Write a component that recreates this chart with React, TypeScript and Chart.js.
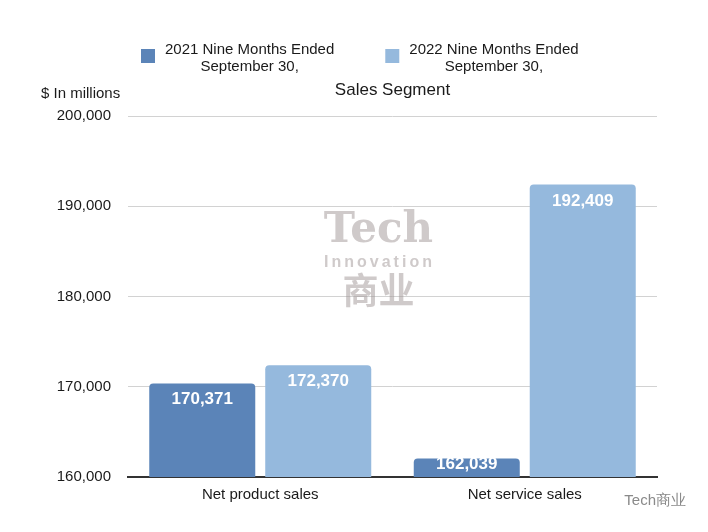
import React, { useEffect, useRef } from 'react';
import { Chart, registerables } from 'chart.js';

Chart.register(...registerables);

const categories = ['Net product sales', 'Net service sales'];
const seriesNames = [
    ['2021 Nine Months Ended', 'September 30,'],
    ['2022 Nine Months Ended', 'September 30,'],
];
const sales2021 = [170371, 162039];
const sales2022 = [172370, 192409];
const yMin = 160000;
const yMax = 200000;
const yStep = 10000;

const colors = ['#5b84b8', '#95b9dd'];
const FONT = 'Arial, "Liberation Sans", Helvetica, sans-serif';

const fmt = (v: number) => v.toLocaleString('en-US');

// white value labels just under the top of each bar
const barLabels = {
    id: 'barLabels',
    afterDatasetsDraw(chart: any) {
        const { ctx, chartArea } = chart;
        ctx.save();
        ctx.fillStyle = '#ffffff';
        ctx.font = `bold 17px ${FONT}`;
        ctx.textAlign = 'center';
        ctx.textBaseline = 'alphabetic';
        chart.data.datasets.forEach((ds: any, i: number) => {
            const meta = chart.getDatasetMeta(i);
            meta.data.forEach((bar: any, j: number) => {
                const y = Math.min(bar.y + 21, chartArea.bottom - 8);
                ctx.fillText(fmt(ds.data[j]), bar.x, y);
            });
        });
        ctx.restore();
    },
};

// legend with two-line labels, title, unit label and watermarks
const headerText = {
    id: 'headerText',
    beforeDatasetsDraw(chart: any) {
        const { ctx, chartArea } = chart;
        const cx = (chartArea.left + chartArea.right) / 2 - 14;
        ctx.save();
        ctx.textAlign = 'center';
        ctx.textBaseline = 'alphabetic';
        ctx.fillStyle = 'rgba(160,150,150,0.5)';
        ctx.font = `bold 42px "DejaVu Serif", "Liberation Serif", serif`;
        ctx.fillText('Tech', cx, 242);
        ctx.font = `bold 16px ${FONT}`;
        ctx.letterSpacing = '3px';
        ctx.fillText('Innovation', cx + 1, 267);
        ctx.letterSpacing = '0px';
        ctx.font = `bold 36px "Noto Sans CJK SC", sans-serif`;
        ctx.fillText('商业', cx, 304);
        ctx.restore();
    },
    afterDraw(chart: any) {
        const { ctx, chartArea, width } = chart;
        ctx.save();
        ctx.fillStyle = '#1a1a1a';
        ctx.textBaseline = 'alphabetic';

        // legend
        ctx.font = `15px ${FONT}`;
        let x = 141;
        seriesNames.forEach((lines, i) => {
            ctx.fillStyle = colors[i];
            ctx.fillRect(x, 49, 14, 14);
            const tx = x + 24;
            const w = Math.max(...lines.map((l) => ctx.measureText(l).width));
            ctx.fillStyle = '#1a1a1a';
            ctx.textAlign = 'center';
            lines.forEach((l, k) => ctx.fillText(l, tx + w / 2, 54 + k * 17));
            x = tx + w + 51;
        });

        // title
        ctx.font = `17px ${FONT}`;
        ctx.textAlign = 'center';
        ctx.fillText('Sales Segment', (chartArea.left + chartArea.right) / 2, 95);

        // unit label
        ctx.font = `15px ${FONT}`;
        ctx.textAlign = 'left';
        ctx.fillText('$ In millions', 41, 98);

        // bottom-right mark
        ctx.fillStyle = '#8a8a8a';
        ctx.textAlign = 'right';
        ctx.fillText('Tech商业', width - 22, 505);
        ctx.restore();
    },
};

const App = () => {
    const chartRef = useRef<HTMLCanvasElement>(null);

    useEffect(() => {
        document.body.style.margin = '0';
        if (!chartRef?.current) return;
        const ctx = chartRef.current.getContext('2d');
        if (!ctx) return;
        const myChart = new Chart(ctx, {
            type: 'bar',
            data: {
                labels: categories,
                datasets: [
                    {
                        label: seriesNames[0].join(' '),
                        data: sales2021,
                        backgroundColor: colors[0],
                        borderRadius: 4,
                        categoryPercentage: 0.877,
                        barPercentage: 0.914,
                    },
                    {
                        label: seriesNames[1].join(' '),
                        data: sales2022,
                        backgroundColor: colors[1],
                        borderRadius: 4,
                        categoryPercentage: 0.877,
                        barPercentage: 0.914,
                    },
                ],
            },
            options: {
                responsive: false,
                animation: false,
                layout: {
                    padding: { top: 116, right: 51, bottom: 0, left: 0 },
                },
                plugins: {
                    legend: { display: false },
                    title: { display: false },
                    tooltip: { enabled: false },
                },
                scales: {
                    x: {
                        grid: { display: false },
                        border: { display: true, color: '#333333', width: 2 },
                        ticks: {
                            color: '#1a1a1a',
                            font: { family: FONT, size: 15 },
                            padding: 1,
                        },
                        afterFit: (scale: any) => {
                            scale.height = 55;
                        },
                    },
                    y: {
                        min: yMin,
                        max: yMax,
                        grid: { color: '#d2d2d2', lineWidth: 1, drawTicks: false },
                        border: { display: false },
                        ticks: {
                            stepSize: yStep,
                            color: '#1a1a1a',
                            font: { family: FONT, size: 15 },
                            padding: 17,
                            callback: (v: any) => fmt(Number(v)),
                        },
                        afterFit: (scale: any) => {
                            scale.width = 128;
                        },
                    },
                },
            },
            plugins: [headerText, barLabels],
        });

        return () => {
            myChart.destroy();
        };
    }, []);

    return <canvas ref={chartRef} width={708} height={532} />;
};

export default App;
